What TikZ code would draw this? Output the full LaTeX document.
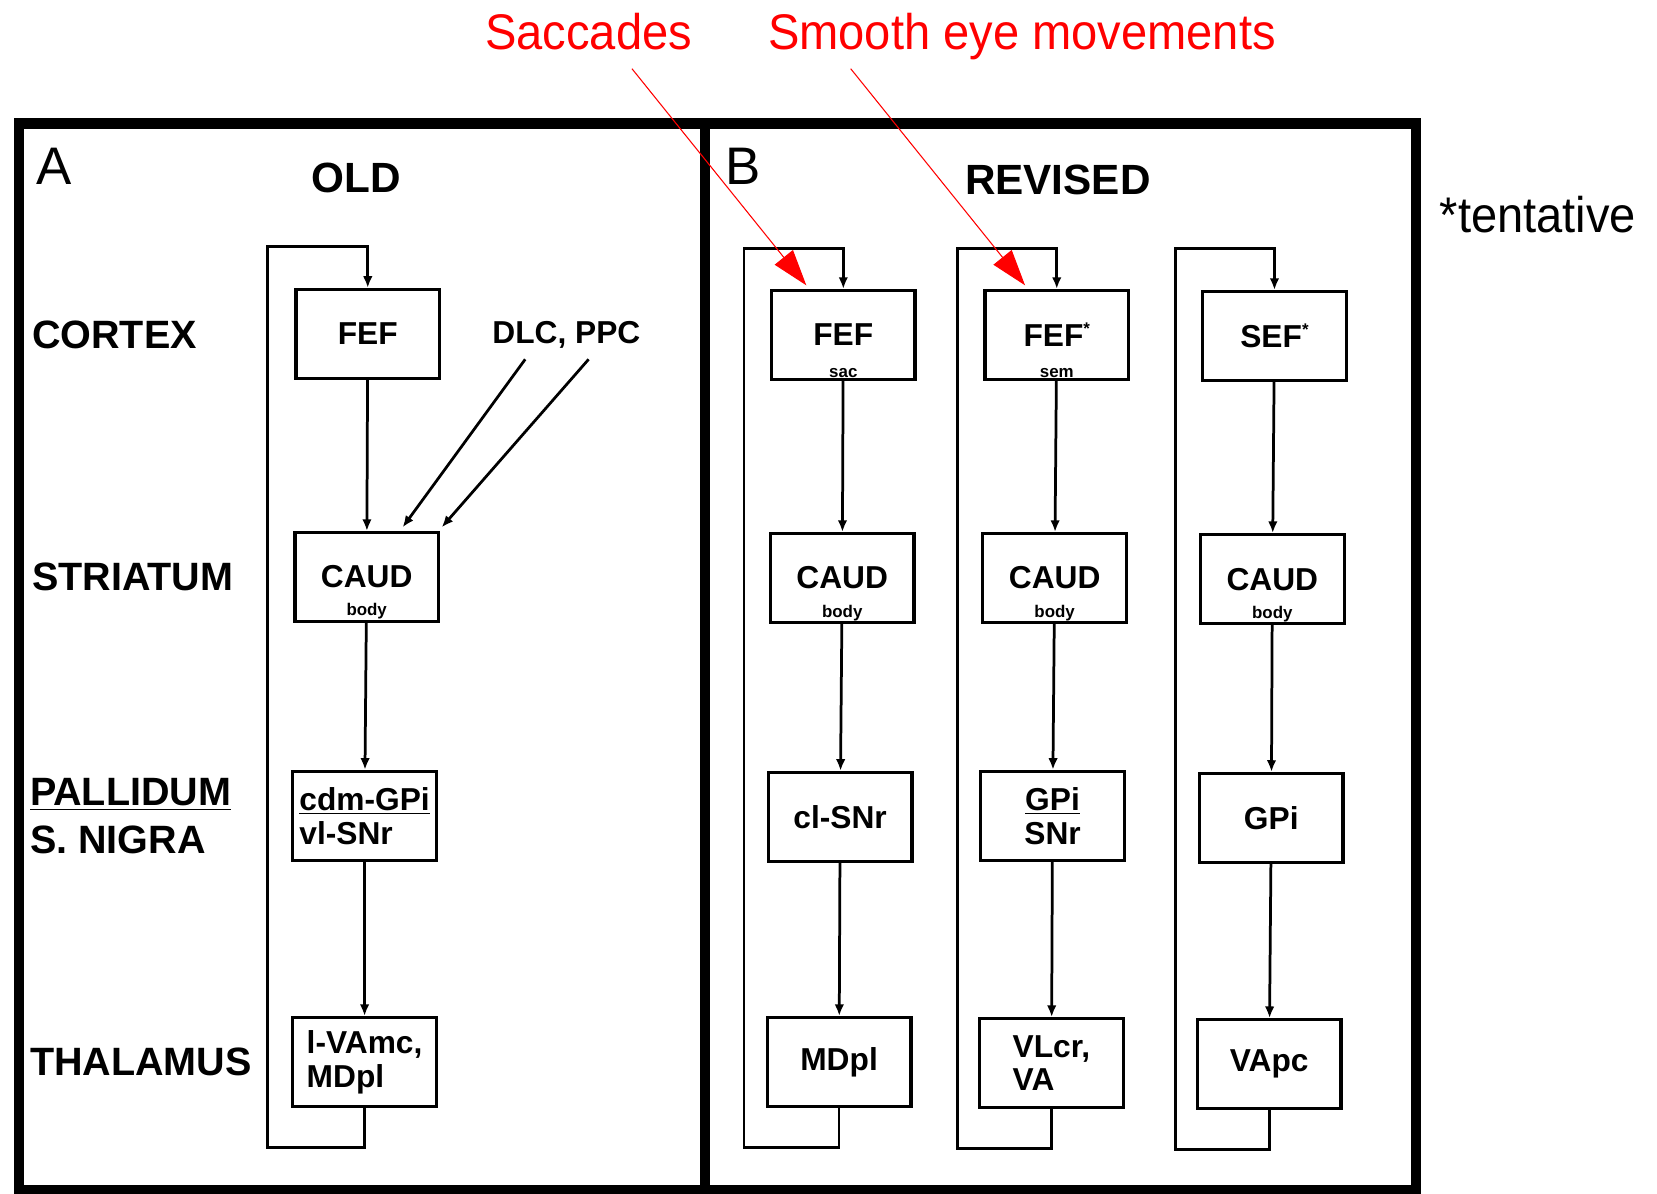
\documentclass[tikz,border=0pt]{standalone}
\usepackage{fontspec}
\setmainfont{Liberation Sans}
\newfontfamily\narrowfont[FakeStretch=0.94]{Liberation Sans}
\usetikzlibrary{arrows.meta}
\newcommand{\tent}{\raisebox{0.38em}{\fontsize{8}{8}\selectfont *}}
\begin{document}
\begin{tikzpicture}[x=0.5pt,y=-0.5pt,
  box/.style={draw, line width=1.6pt, minimum width=68pt, minimum height=42pt, inner sep=0pt,
    font=\fontsize{15}{16}\selectfont\bfseries, align=center},
  boxl/.style={box, align=left},
  sub/.style={anchor=south, inner sep=1.5pt, font=\fontsize{8}{8}\selectfont\bfseries},
  side/.style={anchor=west, inner sep=0pt, font=\fontsize{18.7}{21}\selectfont\bfseries},
  ttl/.style={inner sep=0pt, font=\fontsize{20}{20}\selectfont\bfseries},
  letter/.style={inner sep=0pt, font=\fontsize{25}{25}\selectfont},
  conn/.style={line width=1.3pt, -{Latex[length=5.5pt,width=4.5pt]}},
  loop/.style={line width=1.3pt, -{Latex[length=5.5pt,width=4.5pt]}},
  frame/.style={line width=5pt},
  redtxt/.style={inner sep=0pt, anchor=base, text=red, font=\narrowfont\fontsize{23.7}{25}\selectfont},
  redarr/.style={red, line width=0.5pt, -{Triangle[length=17pt,width=11pt]}}
]
\useasboundingbox (0,0) rectangle (1568,1129);

% frame
\draw[frame] (18,117) rectangle (1340,1126);
\draw[frame] (667,117) -- (667,1126);

% panel A
\node[letter] (A) at (51,157) {A};
\node[ttl] (old) at (337,168) {OLD};
\node[side] (cortex) at (30,317) {CORTEX};
\node[side] (striatum) at (30,546) {STRIATUM};
\node[side] (pallidum) at (28,752) {\underline{PALLIDUM}};
\node[side] (snigra) at (28,795) {S. NIGRA};
\node[side] (thalamus) at (28,1005) {THALAMUS};

\node[box] (fefA) at (348,316) {FEF};
\node[box, label={[sub]south:body}] (cauA) at (347,546) {CAUD};
\node[boxl] (palA) at (345,772) {\underline{cdm-GPi}\\vl-SNr};
\node[boxl] (thaA) at (345,1005) {l-VAmc,\\MDpl};
\node[inner sep=0pt, font=\fontsize{15}{16}\selectfont\bfseries] (dlc) at (536,317) {DLC, PPC};

\coordinate (d1s) at (497,340);
\coordinate (d2s) at (557,340);
\coordinate (d1e) at (381,499);
\coordinate (d2e) at (418,499);

\draw[conn] (fefA) -- (cauA);
\draw[conn] (cauA) -- (palA);
\draw[conn] (palA) -- (thaA);
\draw[conn] (d1s) -- (d1e);
\draw[conn] (d2s) -- (d2e);
\draw[loop] (thaA.south) -- ++(0,37) -| (253,233) -| (fefA.north);

% panel B
\node[letter] (B) at (703,157) {B};
\node[ttl] (rev) at (1001,170) {REVISED};

\node[box, label={[sub]south:sac}] (fef1) at (798,317) {FEF};
\node[box, label={[sub]south:body}] (cau1) at (797,547) {CAUD};
\node[box] (pal1) at (795,773) {cl-SNr};
\node[box] (tha1) at (794,1005) {MDpl};
\draw[conn] (fef1) -- (cau1);
\draw[conn] (cau1) -- (pal1);
\draw[conn] (pal1) -- (tha1);
\draw[loop] (tha1.south) -- ++(0,37) -| (704,235) -| (fef1.north);

\node[box, label={[sub]south:sem}] (fef2) at (1000,317) {FEF\tent};
\node[box, label={[sub]south:body}] (cau2) at (998,547) {CAUD};
\node[box] (pal2) at (996,772) {\underline{GPi}\\SNr};
\node[boxl] (tha2) at (995,1006) {VLcr,\\VA};
\draw[conn] (fef2) -- (cau2);
\draw[conn] (cau2) -- (pal2);
\draw[conn] (pal2) -- (tha2);
\draw[loop] (tha2.south) -- ++(0,37) -| (906,235) -| (fef2.north);

\node[box] (fef3) at (1206,318) {SEF\tent};
\node[box, label={[sub]south:body}] (cau3) at (1204,548) {CAUD};
\node[box] (pal3) at (1203,774) {GPi};
\node[box] (tha3) at (1201,1007) {VApc};
\draw[conn] (fef3) -- (cau3);
\draw[conn] (cau3) -- (pal3);
\draw[conn] (pal3) -- (tha3);
\draw[loop] (tha3.south) -- ++(0,37) -| (1112,235) -| (fef3.north);

% annotations
\node[inner sep=0pt, anchor=base west, font=\narrowfont\fontsize{23.7}{25}\selectfont] (tent) at (1362,220) {*tentative};
\node[redtxt] (sacc) at (557,47) {Saccades};
\node[redtxt] (smooth) at (967,47) {Smooth eye movements};
\coordinate (s1) at (598,65);
\coordinate (s2) at (805,65);
\coordinate (t1) at (763,270);
\coordinate (t2) at (970,270);
\draw[redarr] (s1) -- (t1);
\draw[redarr] (s2) -- (t2);
\end{tikzpicture}
\end{document}
